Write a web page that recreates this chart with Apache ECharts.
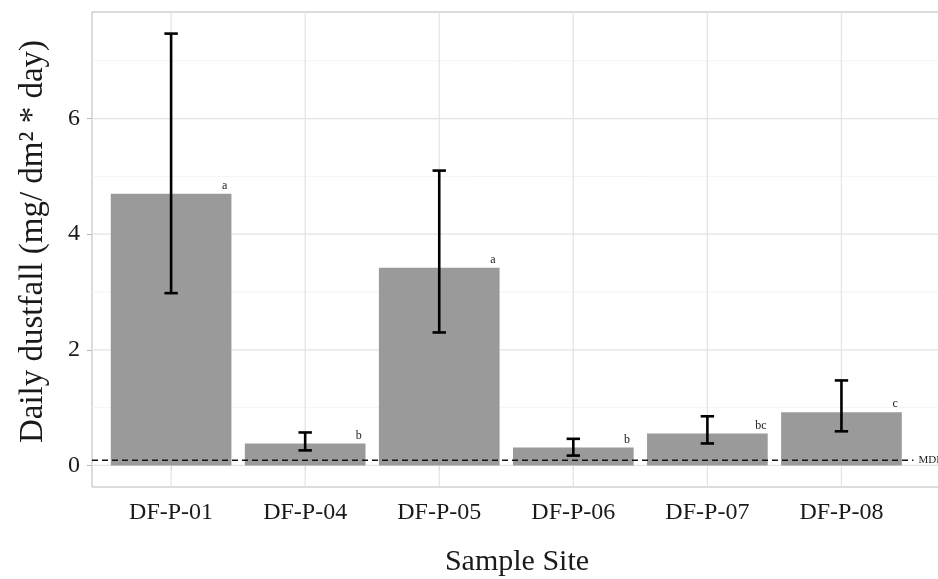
<!DOCTYPE html>
<html>
<head>
<meta charset="utf-8">
<script src="https://cdn.jsdelivr.net/npm/echarts@6/dist/echarts.min.js"></script>
<style>html,body{margin:0;padding:0;background:#fff}#c{width:938px;height:579px}</style>
</head>
<body>
<div id="c"></div>
<script>
const sites = ['DF-P-01','DF-P-04','DF-P-05','DF-P-06','DF-P-07','DF-P-08'];
const means = [4.70, 0.38, 3.42, 0.31, 0.55, 0.92];
const lower = [2.98, 0.26, 2.30, 0.17, 0.38, 0.59];
const upper = [7.47, 0.57, 5.10, 0.46, 0.85, 1.47];
const letters = ['a','b','a','b','bc','c'];
const mdl = 0.09;
const yMajor = [0, 2, 4, 6];
const yMinor = [1, 3, 5, 7];

const FONT = 'Liberation Serif';
const X_MIN = 0.41, X_MAX = 6.75, Y_MIN = -0.3735, Y_MAX = 7.8435;
const xPos = sites.map((s, i) => i + 1);

const chart = echarts.init(document.getElementById('c'));

const gridData = [
  ...yMinor.map(v => ['h', v, 'minor']),
  ...yMajor.map(v => ['h', v, 'major']),
  ...xPos.map(v => ['v', v, 'major'])
];

chart.setOption({
  animation: false,
  grid: { left: 92, top: 12, width: 850, height: 475, show: true, borderColor: '#b8b8b8', borderWidth: 1, backgroundColor: '#fff', outerBoundsMode: 'none', containLabel: false },
  xAxis: {
    type: 'value', min: X_MIN, max: X_MAX,
    axisLine: { show: false },
    splitLine: { show: false },
    axisTick: { show: true, customValues: xPos, length: 5, lineStyle: { color: '#b8b8b8' } },
    axisLabel: { customValues: xPos, formatter: v => sites[Math.round(v) - 1] || '', fontFamily: FONT, fontSize: 24, color: '#1a1a1a', margin: 14 },
    name: 'Sample Site', nameLocation: 'middle', nameGap: 60,
    nameTextStyle: { fontFamily: FONT, fontSize: 30, color: '#1a1a1a' }
  },
  yAxis: {
    type: 'value', min: Y_MIN, max: Y_MAX,
    axisLine: { show: false },
    splitLine: { show: false },
    axisTick: { show: true, customValues: yMajor, length: 5, lineStyle: { color: '#b8b8b8' } },
    axisLabel: { customValues: yMajor, fontFamily: FONT, fontSize: 24, color: '#1a1a1a', margin: 12 },
    name: 'Daily dustfall (mg/ dm\u00b2 * day)', nameLocation: 'middle', nameGap: 42,
    nameTextStyle: { fontFamily: FONT, fontSize: 33, color: '#1a1a1a', padding: [0, 0, 0, 16] }
  },
  series: [
    {
      type: 'custom', z: 1, silent: true,
      data: gridData,
      renderItem: (params, api) => {
        const d = gridData[params.dataIndex];
        const cs = params.coordSys;
        const style = { stroke: d[2] === 'major' ? '#e3e3e3' : '#f0f0f0', lineWidth: d[2] === 'major' ? 1.2 : 0.8 };
        if (d[0] === 'h') {
          const y = api.coord([X_MIN, d[1]])[1];
          return { type: 'line', shape: { x1: cs.x, y1: y, x2: cs.x + cs.width, y2: y }, style };
        }
        const x = api.coord([d[1], 0])[0];
        return { type: 'line', shape: { x1: x, y1: cs.y, x2: x, y2: cs.y + cs.height }, style };
      }
    },
    {
      type: 'custom', z: 2, silent: true,
      data: means.map((m, i) => [xPos[i], m]),
      renderItem: (params, api) => {
        const x = api.value(0), m = api.value(1);
        const p0 = api.coord([x - 0.45, m]);
        const p1 = api.coord([x + 0.45, 0]);
        return { type: 'rect', shape: { x: p0[0], y: p0[1], width: p1[0] - p0[0], height: p1[1] - p0[1] }, style: { fill: '#9a9a9a' } };
      }
    },
    {
      type: 'line', z: 3, silent: true, symbol: 'none',
      data: [[X_MIN, mdl], [6.537, mdl]],
      lineStyle: { color: '#111', width: 1.6, type: [6, 4] }
    },
    {
      type: 'custom', z: 4, silent: true,
      data: means.map((m, i) => [xPos[i], lower[i], upper[i]]),
      renderItem: (params, api) => {
        const x = api.value(0);
        const lo = api.coord([x, api.value(1)]);
        const hi = api.coord([x, api.value(2)]);
        const half = api.size([0.05, 0])[0];
        const st = { stroke: '#000', lineWidth: 2.6 };
        return { type: 'group', children: [
          { type: 'line', shape: { x1: lo[0], y1: lo[1], x2: hi[0], y2: hi[1] }, style: st },
          { type: 'line', shape: { x1: lo[0] - half, y1: lo[1], x2: lo[0] + half, y2: lo[1] }, style: st },
          { type: 'line', shape: { x1: hi[0] - half, y1: hi[1], x2: hi[0] + half, y2: hi[1] }, style: st }
        ] };
      }
    },
    {
      type: 'custom', z: 5, silent: true,
      data: means.map((m, i) => [xPos[i], m]),
      renderItem: (params, api) => {
        const p = api.coord([api.value(0) + 0.4, api.value(1)]);
        return { type: 'text', x: p[0], y: p[1] - 2, style: { text: letters[params.dataIndex], fontFamily: FONT, fontSize: 12, fill: '#222', align: 'center', verticalAlign: 'bottom' } };
      }
    },
    {
      type: 'custom', z: 5, silent: true,
      data: [[6.574, mdl]],
      renderItem: (params, api) => {
        const p = api.coord([api.value(0), api.value(1)]);
        return { type: 'text', x: p[0], y: p[1], style: { text: 'MDL', fontFamily: FONT, fontSize: 11, fill: '#222', align: 'left', verticalAlign: 'middle' } };
      }
    }
  ]
});
</script>
</body>
</html>
